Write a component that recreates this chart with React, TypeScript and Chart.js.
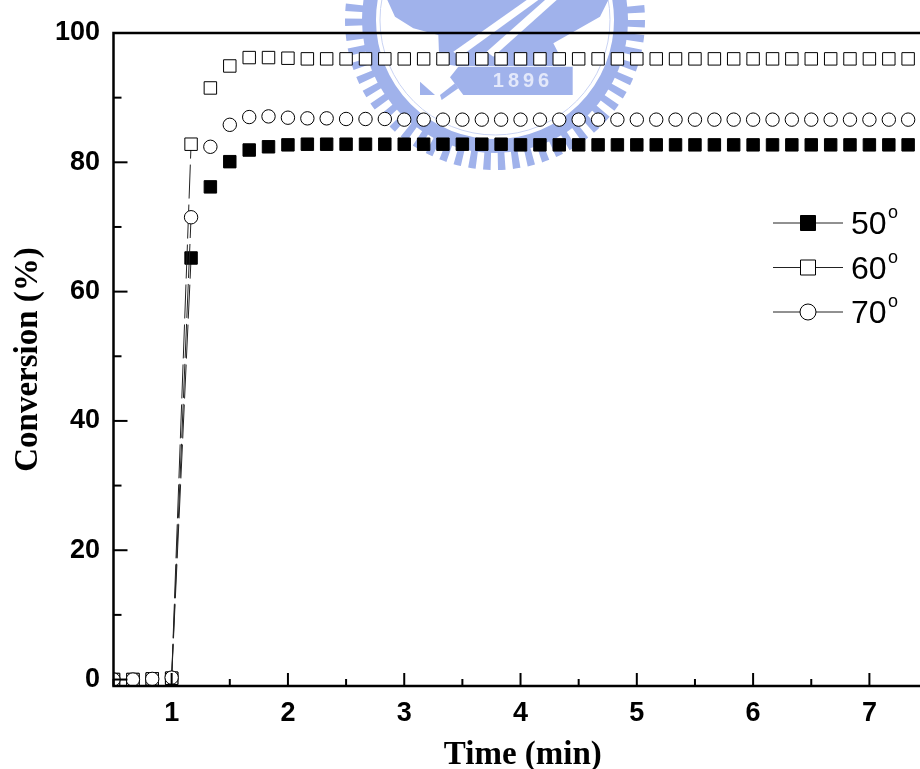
import React, { useEffect, useRef } from "react";
import { Chart, registerables } from "chart.js";

Chart.register(...registerables);

const timeMin = [0.5, 0.667, 0.833, 1, 1.167, 1.333, 1.5, 1.667, 1.833, 2, 2.167, 2.333, 2.5, 2.667, 2.833, 3, 3.167, 3.333, 3.5, 3.667, 3.833, 4, 4.167, 4.333, 4.5, 4.667, 4.833, 5, 5.167, 5.333, 5.5, 5.667, 5.833, 6, 6.167, 6.333, 6.5, 6.667, 6.833, 7, 7.167, 7.333, 7.5];
const series50 = [0, 0, 0.1, 0.2, 65.2, 76.2, 80.1, 81.9, 82.4, 82.7, 82.8, 82.8, 82.8, 82.8, 82.8, 82.8, 82.8, 82.8, 82.8, 82.8, 82.8, 82.7, 82.7, 82.7, 82.7, 82.7, 82.7, 82.7, 82.7, 82.7, 82.7, 82.7, 82.7, 82.7, 82.7, 82.7, 82.7, 82.7, 82.7, 82.7, 82.7, 82.7, 82.7];
const series60 = [0, 0, 0.1, 0.2, 82.8, 91.5, 94.9, 96.2, 96.2, 96.1, 96, 96, 96, 96, 96, 96, 96, 96, 96, 96, 96, 96, 96, 96, 96, 96, 96, 96, 96, 96, 96, 96, 96, 96, 96, 96, 96, 96, 96, 96, 96, 96, 96];
const series70 = [0, 0, 0.1, 0.3, 71.5, 82.4, 85.8, 87, 87.1, 86.9, 86.8, 86.8, 86.7, 86.7, 86.7, 86.6, 86.6, 86.6, 86.6, 86.6, 86.6, 86.6, 86.6, 86.6, 86.6, 86.6, 86.6, 86.6, 86.6, 86.6, 86.6, 86.6, 86.6, 86.6, 86.6, 86.6, 86.6, 86.6, 86.6, 86.6, 86.6, 86.6, 86.6];
const seriesLabels = ["50", "60", "70"];
const xTicks = [0.5, 1, 1.5, 2, 2.5, 3, 3.5, 4, 4.5, 5, 5.5, 6, 6.5, 7, 7.5];
const yTicks = [0, 10, 20, 30, 40, 50, 60, 70, 80, 90, 100];
const xTitle = "Time (min)";
const yTitle = "Conversion (%)";

const zip = (ys: number[]) => timeMin.map((x, i) => ({ x, y: ys[i] }));
const riseSegment = (ctx: any) =>
  ctx.p0DataIndex === 3 || ctx.p0DataIndex === 0 ? "#222" : "transparent";

const watermark = {
  id: "watermark",
  beforeDatasetsDraw(chart: any) {
    const c = chart.ctx;
    const blue = "#a0b2eb";
    const Z = (x: number, y: number): [number, number] => [300 + x / 3, y / 3];
    const poly = (pts: number[][], fill: string) => {
      c.beginPath();
      pts.forEach((p, i) => {
        const [x, y] = Z(p[0], p[1]);
        if (i) c.lineTo(x, y);
        else c.moveTo(x, y);
      });
      c.closePath();
      c.fillStyle = fill;
      c.fill();
    };
    c.save();
    c.strokeStyle = blue;
    c.setLineDash([7, 7]);
    c.lineWidth = 20;
    c.beginPath();
    c.arc(495, 20, 140, -0.2, Math.PI + 0.2);
    c.stroke();
    c.setLineDash([]);
    c.lineWidth = 14;
    c.beginPath();
    c.arc(495, 20, 126, -0.2, Math.PI + 0.2);
    c.stroke();
    c.lineWidth = 1;
    c.strokeStyle = "#c9d3f3";
    c.beginPath();
    c.arc(495, 20, 115, -0.2, Math.PI + 0.2);
    c.stroke();
    poly([[262, 0], [285, 50], [340, 85], [415, 105], [418, 190], [470, 198], [795, 198], [760, 130], [830, 90], [900, 50], [925, 0]], blue);
    poly([[475, 200], [818, 200], [818, 285], [490, 285], [450, 232]], blue);
    poly([[360, 245], [405, 285], [360, 285]], blue);
    poly([[425, 300], [475, 265], [465, 250], [420, 285]], blue);
    poly([[460, 155], [480, 170], [715, 0], [680, 0]], "#fff");
    poly([[560, 155], [580, 170], [770, 0], [735, 0]], "#fff");
    c.fillStyle = "#e3e8fa";
    c.font = "bold 20px 'Liberation Sans'";
    c.letterSpacing = "4px";
    c.textAlign = "center";
    c.textBaseline = "middle";
    c.fillText("1896", 523, 81);
    c.restore();
  },
};

const frame = {
  id: "frame",
  afterDatasetsDraw(chart: any) {
    const c = chart.ctx;
    const { left, right, top, bottom } = chart.chartArea;
    c.save();
    c.strokeStyle = "#000";
    c.lineWidth = 2;
    chart.scales.x.ticks.forEach((t: any) => {
      const px = chart.scales.x.getPixelForValue(t.value);
      const len = Number.isInteger(t.value) ? 13 : 7;
      c.beginPath();
      c.moveTo(px, bottom);
      c.lineTo(px, bottom - len);
      c.stroke();
    });
    chart.scales.y.ticks.forEach((t: any) => {
      const py = chart.scales.y.getPixelForValue(t.value);
      const len = t.value % 20 === 0 ? 14 : 8;
      c.beginPath();
      c.moveTo(left, py);
      c.lineTo(left + len, py);
      c.stroke();
    });
    c.lineWidth = 2.5;
    c.beginPath();
    c.moveTo(right, top);
    c.lineTo(left, top);
    c.lineTo(left, bottom);
    c.lineTo(right, bottom);
    c.stroke();
    c.restore();
  },
};

const legendBox = {
  id: "legendBox",
  afterDraw(chart: any) {
    const c = chart.ctx;
    const rows = [223, 267.5, 312];
    chart.data.datasets.forEach((ds: any, i: number) => {
      const y = rows[i];
      c.save();
      c.strokeStyle = "#222";
      c.lineWidth = 1;
      c.beginPath();
      c.moveTo(773, y);
      c.lineTo(843, y);
      c.stroke();
      c.fillStyle = ds.pointBackgroundColor;
      c.strokeStyle = "#000";
      c.beginPath();
      if (ds.pointStyle === "circle") c.arc(808, y, 8, 0, Math.PI * 2);
      else c.rect(800.5, y - 7.5, 15, 15);
      c.fill();
      c.stroke();
      c.fillStyle = "#000";
      c.textBaseline = "alphabetic";
      c.textAlign = "left";
      c.font = "32px 'Liberation Sans'";
      c.fillText(ds.label, 851, y + 11);
      c.font = "18px 'Liberation Sans'";
      c.fillText("o", 888, y - 5);
      c.restore();
    });
  },
};

export default function App() {
  const ref = useRef<HTMLCanvasElement>(null);
  useEffect(() => {
    const common = {
      showLine: true,
      borderColor: "#000",
      borderWidth: 1,
      pointBorderWidth: 1,
      pointBorderColor: "#000",
      segment: { borderColor: riseSegment, borderDash: () => [34, 6] },
    };
    const tickFont = { family: "'Liberation Sans'", size: 27, weight: "bold" as const };
    const titleFont = { family: "'Liberation Serif'", size: 33, weight: "bold" as const };
    const chart = new Chart(ref.current!, {
      type: "line",
      data: {
        datasets: [
          { ...common, label: seriesLabels[0], data: zip(series50), pointStyle: "rect", pointRadius: 8.8, pointBackgroundColor: "#000", order: 3 },
          { ...common, label: seriesLabels[1], data: zip(series60), pointStyle: "rect", pointRadius: 8.8, pointBackgroundColor: "#fff", order: 2 },
          { ...common, label: seriesLabels[2], data: zip(series70), pointStyle: "circle", pointRadius: 6.7, pointBackgroundColor: "#fff", order: 1 },
        ],
      },
      options: {
        responsive: false,
        animation: false,
        layout: { padding: { left: 0, right: 0, top: 33, bottom: 0 } },
        plugins: { legend: { display: false }, tooltip: { enabled: false } },
        scales: {
          x: {
            type: "linear",
            min: 0.5,
            max: 7.54,
            afterBuildTicks: (s: any) => { s.ticks = xTicks.map((value) => ({ value })); },
            afterFit: (s: any) => { s.height = 89; s.paddingLeft = 0; s.paddingRight = 0; },
            grid: { display: false },
            border: { display: false },
            ticks: {
              autoSkip: false,
              maxRotation: 0,
              padding: 3,
              color: "#000",
              font: tickFont,
              callback: (v: any) => (Number.isInteger(v) ? String(v) : ""),
            },
            title: { display: true, text: xTitle, color: "#000", font: titleFont, padding: { top: 8, bottom: 0 } },
          },
          y: {
            type: "linear",
            min: -1,
            max: 100,
            afterBuildTicks: (s: any) => { s.ticks = yTicks.map((value) => ({ value })); },
            afterFit: (s: any) => { s.width = 113.5; s.paddingTop = 0; s.paddingBottom = 0; },
            grid: { display: false },
            border: { display: false },
            ticks: {
              autoSkip: false,
              padding: 5.5,
              color: "#000",
              font: tickFont,
              callback: (v: any) => (v % 20 === 0 ? String(v) : ""),
            },
            title: { display: true, text: yTitle, color: "#000", font: titleFont, padding: { top: 9, bottom: 0 } },
          },
        },
      },
      plugins: [watermark, frame, legendBox],
    } as any);
    return () => chart.destroy();
  }, []);
  return (
    <div style={{ position: "fixed", left: 0, top: 0, width: 920, height: 769, overflow: "hidden", background: "#fff" }}>
      <canvas ref={ref} width={942} height={775} style={{ display: "block" }} />
    </div>
  );
}
